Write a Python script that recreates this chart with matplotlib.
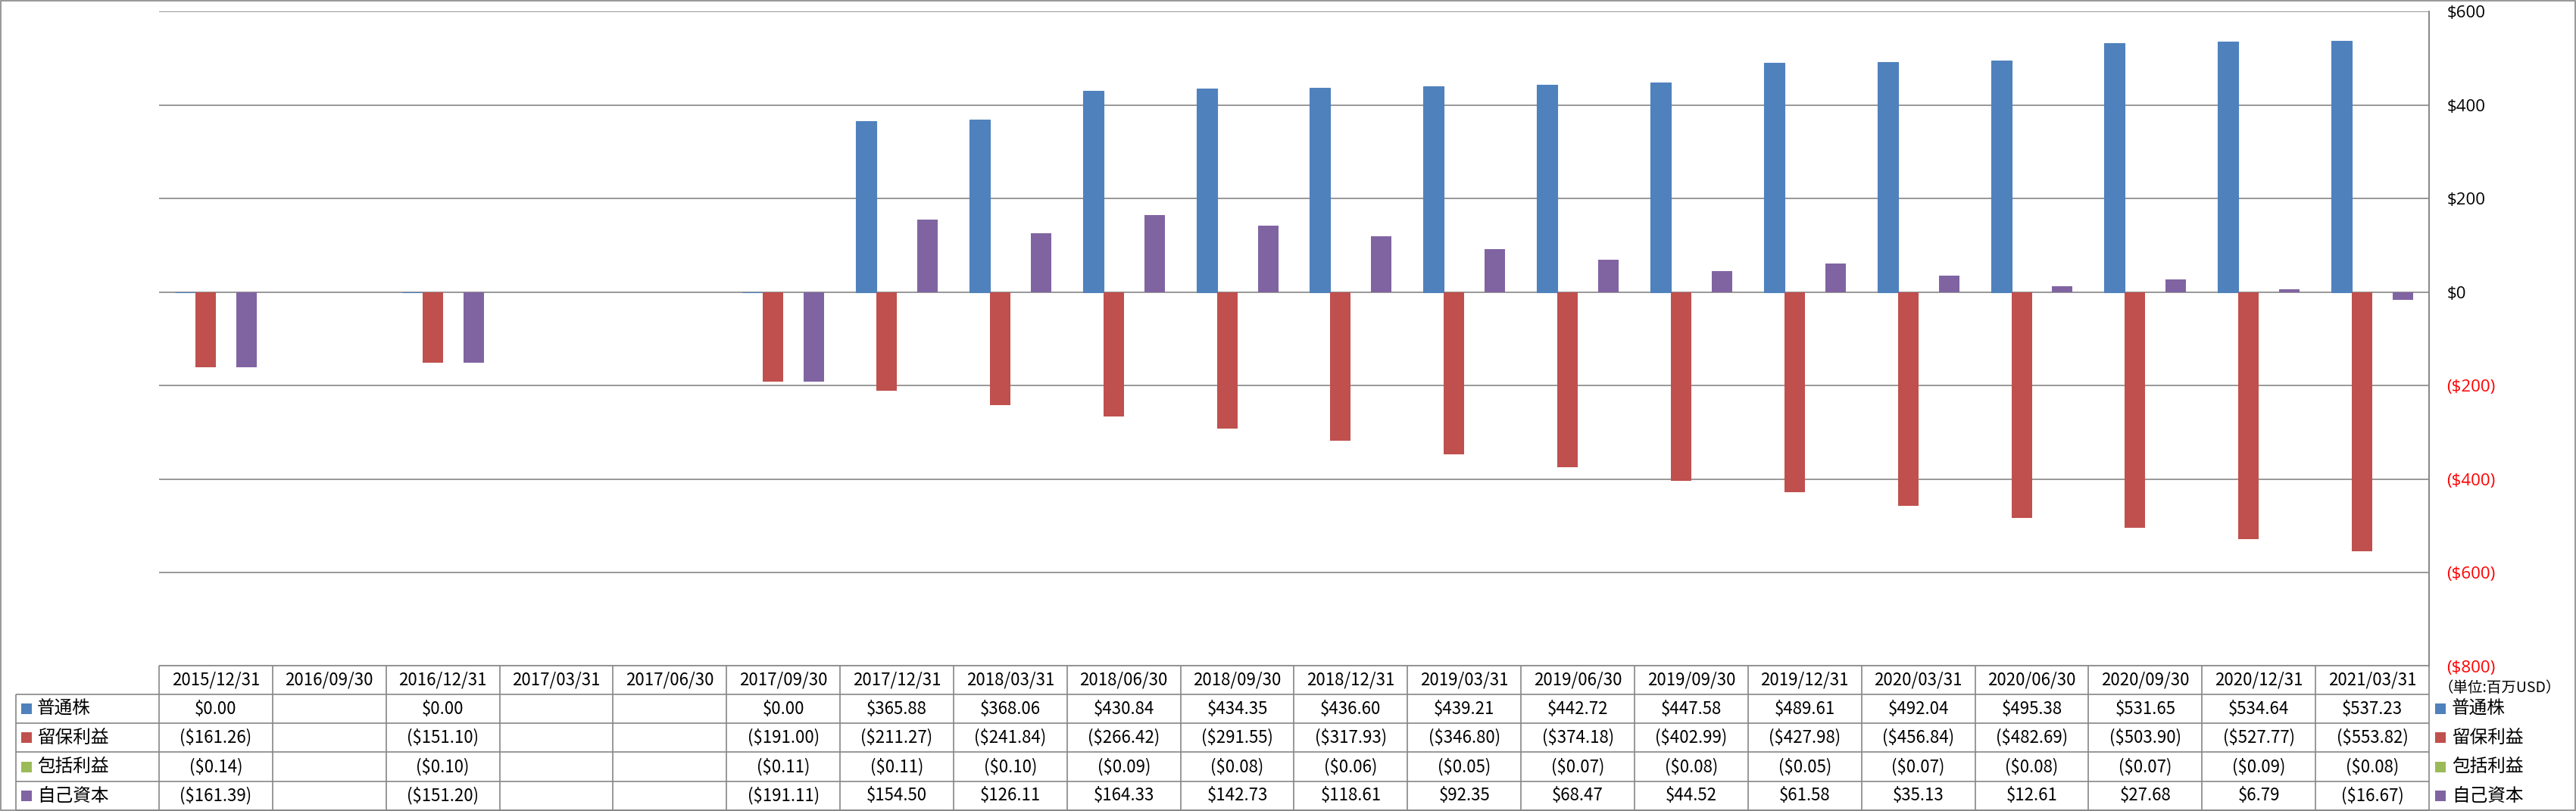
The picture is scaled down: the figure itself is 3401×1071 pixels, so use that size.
import matplotlib
matplotlib.use("Agg")
import matplotlib.pyplot as plt
import numpy as np
from matplotlib.patches import Rectangle

plt.rcParams['font.family'] = ['Noto Sans CJK JP', 'DejaVu Sans']

# data (百万USD)
dates = ['2015/12/31', '2016/09/30', '2016/12/31', '2017/03/31', '2017/06/30',
         '2017/09/30', '2017/12/31', '2018/03/31', '2018/06/30', '2018/09/30',
         '2018/12/31', '2019/03/31', '2019/06/30', '2019/09/30', '2019/12/31',
         '2020/03/31', '2020/06/30', '2020/09/30', '2020/12/31', '2021/03/31']
common_stock = [0.00, None, 0.00, None, None, 0.00, 365.88, 368.06, 430.84, 434.35,
                436.60, 439.21, 442.72, 447.58, 489.61, 492.04, 495.38, 531.65, 534.64, 537.23]
retained = [-161.26, None, -151.10, None, None, -191.00, -211.27, -241.84, -266.42, -291.55,
            -317.93, -346.80, -374.18, -402.99, -427.98, -456.84, -482.69, -503.90, -527.77, -553.82]
comprehensive = [-0.14, None, -0.10, None, None, -0.11, -0.11, -0.10, -0.09, -0.08,
                 -0.06, -0.05, -0.07, -0.08, -0.05, -0.07, -0.08, -0.07, -0.09, -0.08]
equity = [-161.39, None, -151.20, None, None, -191.11, 154.50, 126.11, 164.33, 142.73,
          118.61, 92.35, 68.47, 44.52, 61.58, 35.13, 12.61, 27.68, 6.79, -16.67]

series_names = ['普通株', '留保利益', '包括利益', '自己資本']
series_values = [common_stock, retained, comprehensive, equity]
colors = ['#4F81BD', '#C0504D', '#9BBB59', '#8064A2']
y_ticks = [-800, -600, -400, -200, 0, 200, 400, 600]
unit_label = '（単位:百万USD）'

GRID = '#868686'
W, H = 3401, 1071
LEFT, RIGHT, TOP, BOT = 210, 3207, 15, 880


def money(v):
    if v is None:
        return ''
    if v < 0:
        return '(${:,.2f})'.format(-v)
    return '${:,.2f}'.format(v)


def money_tick(v):
    if v < 0:
        return '(${:,})'.format(-v)
    return '${:,}'.format(v)


fig = plt.figure(figsize=(W / 100, H / 100), dpi=100)
ax = fig.add_axes([LEFT / W, 1 - BOT / H, (RIGHT - LEFT) / W, (BOT - TOP) / H])

n = len(dates)
x = np.arange(n)
bw = 0.18
for k, (vals, c) in enumerate(zip(series_values, colors)):
    h = np.array([np.nan if v is None else v for v in vals], dtype=float)
    # the $0.00 common stock bars still show as a thin sliver in the original
    edge_lw = 0.8 if k == 0 else 0
    ax.bar(x + (k - 1.5) * bw, h, width=bw, color=c, edgecolor=c, lw=edge_lw, zorder=2)

ax.set_xlim(-0.5, n - 0.5)
ax.set_ylim(y_ticks[0], y_ticks[-1])
ax.set_xticks([])
ax.yaxis.tick_right()
ax.set_yticks(y_ticks, labels=[money_tick(v) for v in y_ticks])
for lbl, v in zip(ax.get_yticklabels(), y_ticks):
    lbl.set_color('red' if v < 0 else 'black')
    lbl.set_family(['Open Sans', 'DejaVu Sans'])
ax.tick_params(axis='y', length=0, pad=17, labelsize=16)
ax.yaxis.grid(True, color=GRID, lw=1.2, zorder=1)
ax.set_axisbelow(True)
for s in ['left', 'top', 'bottom']:
    ax.spines[s].set_visible(False)
ax.spines['right'].set_color(GRID)
ax.spines['right'].set_linewidth(1.2)

# overlay in pixel coords for the data table
ov = fig.add_axes([0, 0, 1, 1], zorder=5)
ov.set_xlim(0, W)
ov.set_ylim(H, 0)
ov.axis('off')
ov.patch.set_alpha(0)

ov.add_patch(Rectangle((0.8, 0.8), W - 1.6, H - 1.6, fill=False, ec=GRID, lw=1.2))

col_w = (RIGHT - LEFT) / n
row_y = [879, 917, 955, 993, 1032, 1070]
lab_x = 21

ov.hlines(row_y[0], LEFT, RIGHT, color=GRID, lw=1.2)
ov.hlines(row_y[1:], lab_x, RIGHT, color=GRID, lw=1.2)
ov.vlines(lab_x, row_y[1], row_y[-1], color=GRID, lw=1.2)
ov.vlines([LEFT + i * col_w for i in range(n)], row_y[0], row_y[-1], color=GRID, lw=1.2)
ov.vlines(RIGHT, TOP, row_y[-1], color=GRID, lw=1.2)

num_fs = 16
cjk_fs = 17
hy = (row_y[0] + row_y[1]) / 2
for i, d in enumerate(dates):
    ov.text(LEFT + (i + 0.5) * col_w, hy, d, ha='center', va='center', fontsize=num_fs)

for r, (name, vals, c) in enumerate(zip(series_names, series_values, colors)):
    cy = (row_y[r + 1] + row_y[r + 2]) / 2
    for i, v in enumerate(vals):
        ov.text(LEFT + (i + 0.5) * col_w, cy, money(v), ha='center', va='center', fontsize=num_fs)
    # row label with key
    ov.add_patch(Rectangle((28, cy - 7), 14, 14, color=c, lw=0))
    ov.text(49, cy, name, ha='left', va='center', fontsize=cjk_fs)
    # legend on the right
    ov.add_patch(Rectangle((3215, cy - 7), 14, 14, color=c, lw=0))
    ov.text(3237, cy, name, ha='left', va='center', fontsize=cjk_fs)

ov.text(3220, 908, unit_label, ha='left', va='center', fontsize=14)

fig.savefig('out.png', dpi=100)
